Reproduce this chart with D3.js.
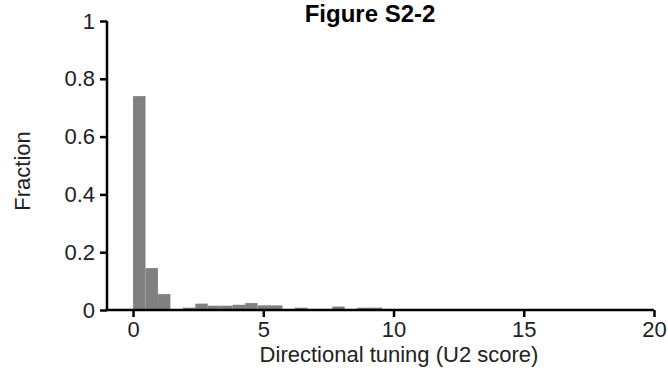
<!DOCTYPE html>
<html>
<head>
<meta charset="utf-8">
<script src="https://cdn.jsdelivr.net/npm/d3@7"></script>
<style>
  body { margin: 0; background: #fff; }
  svg { display: block; font-family: "Liberation Sans", Arial, sans-serif; }
</style>
</head>
<body>
<div id="chart"></div>
<script>
// histogram of U2 scores, bins start at 0
const binWidth = 0.478
const fractions = [
  0.74, 0.145, 0.055, 0, 0.008, 0.022, 0.015, 0.015, 0.018, 0.024,
  0.016, 0.016, 0, 0.008, 0, 0, 0.012, 0, 0.008, 0.008
]
const xTicks = [0, 5, 10, 15, 20]
const yTicks = [0, 0.2, 0.4, 0.6, 0.8, 1]

const width = 668
const height = 375
const fontSize = 22

const svg = d3.select("#chart")
  .append("svg")
    .attr("width", width)
    .attr("height", height)

const xScale = d3.scaleLinear()
  .domain([-1, 20])
  .range([107, 654])

const yScale = d3.scaleLinear()
  .domain([0, 1])
  .range([310, 21])

const bins = fractions.map((v, i) => ({ x0: i * binWidth, x1: (i + 1) * binWidth, value: v }))

svg.append("g")
  .selectAll("rect")
  .data(bins.filter(d => d.value > 0))
  .join("rect")
    .attr("x", d => xScale(d.x0))
    .attr("width", d => xScale(d.x1) - xScale(d.x0))
    .attr("y", d => yScale(d.value))
    .attr("height", d => yScale(0) - yScale(d.value))
    .attr("fill", "#808080")

const xAxis = svg.append("g")
  .attr("transform", `translate(0, ${yScale(0)})`)
  .call(d3.axisBottom(xScale).tickValues(xTicks).tickFormat(d3.format("d")).tickSize(7).tickPadding(4))
xAxis.select(".domain").attr("stroke-width", 2.5).attr("d", `M${xScale(-1)},0H${xScale(20)}`)

const yAxis = svg.append("g")
  .attr("transform", `translate(${xScale(-1)}, 0)`)
  .call(d3.axisLeft(yScale).tickValues(yTicks).tickFormat(d => d === 0 || d === 1 ? d : d3.format(".1f")(d)).tickSize(7).tickPadding(5))
yAxis.select(".domain").attr("stroke-width", 2.5).attr("d", `M0,${yScale(0)}V${yScale(1)}`)

svg.selectAll(".tick line").attr("stroke-width", 2.5)
svg.selectAll(".tick text")
  .attr("font-size", fontSize)
  .attr("font-family", "Liberation Sans, Arial, sans-serif")
  .attr("fill", "#222")

svg.append("text")
  .attr("x", 399)
  .attr("y", 362)
  .attr("text-anchor", "middle")
  .attr("font-size", fontSize)
  .attr("fill", "#222")
  .text("Directional tuning (U2 score)")

svg.append("text")
  .attr("transform", `translate(30, 171) rotate(-90)`)
  .attr("text-anchor", "middle")
  .attr("font-size", fontSize)
  .attr("fill", "#222")
  .text("Fraction")

svg.append("text")
  .attr("x", 370)
  .attr("y", 22)
  .attr("text-anchor", "middle")
  .attr("font-size", 24)
  .attr("font-weight", "bold")
  .text("Figure S2-2")
</script>
</body>
</html>
